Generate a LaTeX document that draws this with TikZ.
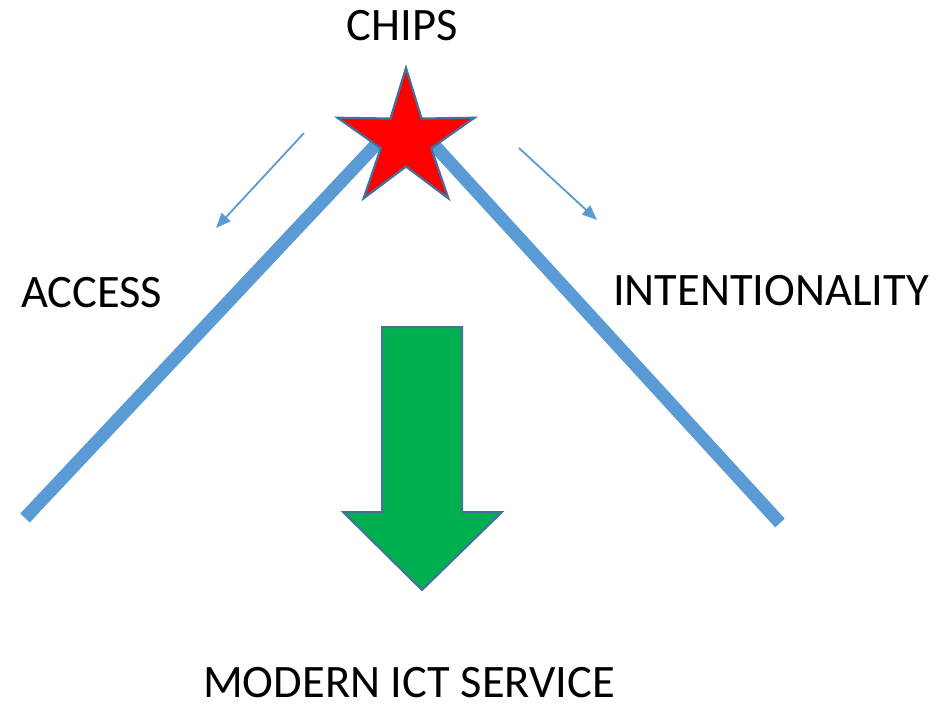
\documentclass[tikz,border=0pt]{standalone}
\usepackage{fontspec}
\setmainfont{Carlito}
\usetikzlibrary{arrows.meta}
\definecolor{lineblue}{HTML}{5B9BD5}
\definecolor{edgeblue}{HTML}{41719C}
\definecolor{arrowgreen}{HTML}{00B050}
\begin{document}
\begin{tikzpicture}[x=1pt, y=-1pt,
    label/.style={inner sep=0pt, font=\fontsize{46.5}{54}\selectfont},
    roof/.style={lineblue, line width=13pt},
    hint/.style={lineblue, line width=1.8pt, -{Triangle[length=15pt,width=12pt]}}]
    \useasboundingbox (0,0) rectangle (945,705);

    % the two slopes
    \coordinate (access foot) at (25,518);
    \coordinate (access top) at (386,134);
    \coordinate (intent top) at (424,134);
    \coordinate (intent foot) at (780,523);
    \draw[roof] (access foot) -- (access top);
    \draw[roof] (intent top) -- (intent foot);

    % star on top
    \begin{scope}[shift={(406,140)}]
    \draw[fill=red, draw=edgeblue, line width=2.2pt, line join=miter]
        (90:72pt) \foreach \a in {162,234,306,18} {-- (\a-36:26.5pt) -- (\a:72pt)}
        -- (54:26.5pt) -- cycle;
    \end{scope}

    % small arrows
    \coordinate (left from) at (304,133);
    \coordinate (left to) at (216,228);
    \coordinate (right from) at (519,148);
    \coordinate (right to) at (597,220);
    \draw[hint] (left from) -- (left to);
    \draw[hint] (right from) -- (right to);

    % green arrow
    \draw[fill=arrowgreen, draw=edgeblue, line width=2pt]
        (382,327) -- (462,327) -- (462,512) -- (502,512) -- (422,590)
        -- (343,512) -- (382,512) -- cycle;

    \node[label, anchor=base] (chips) at (402,40) {CHIPS};
    \node[label, anchor=base west] (access) at (21,307) {ACCESS};
    \node[label, anchor=base west] (intent) at (613,305) {INTENTIONALITY};
    \node[label, anchor=base west] (service) at (203,697) {MODERN ICT SERVICE};
\end{tikzpicture}
\end{document}
